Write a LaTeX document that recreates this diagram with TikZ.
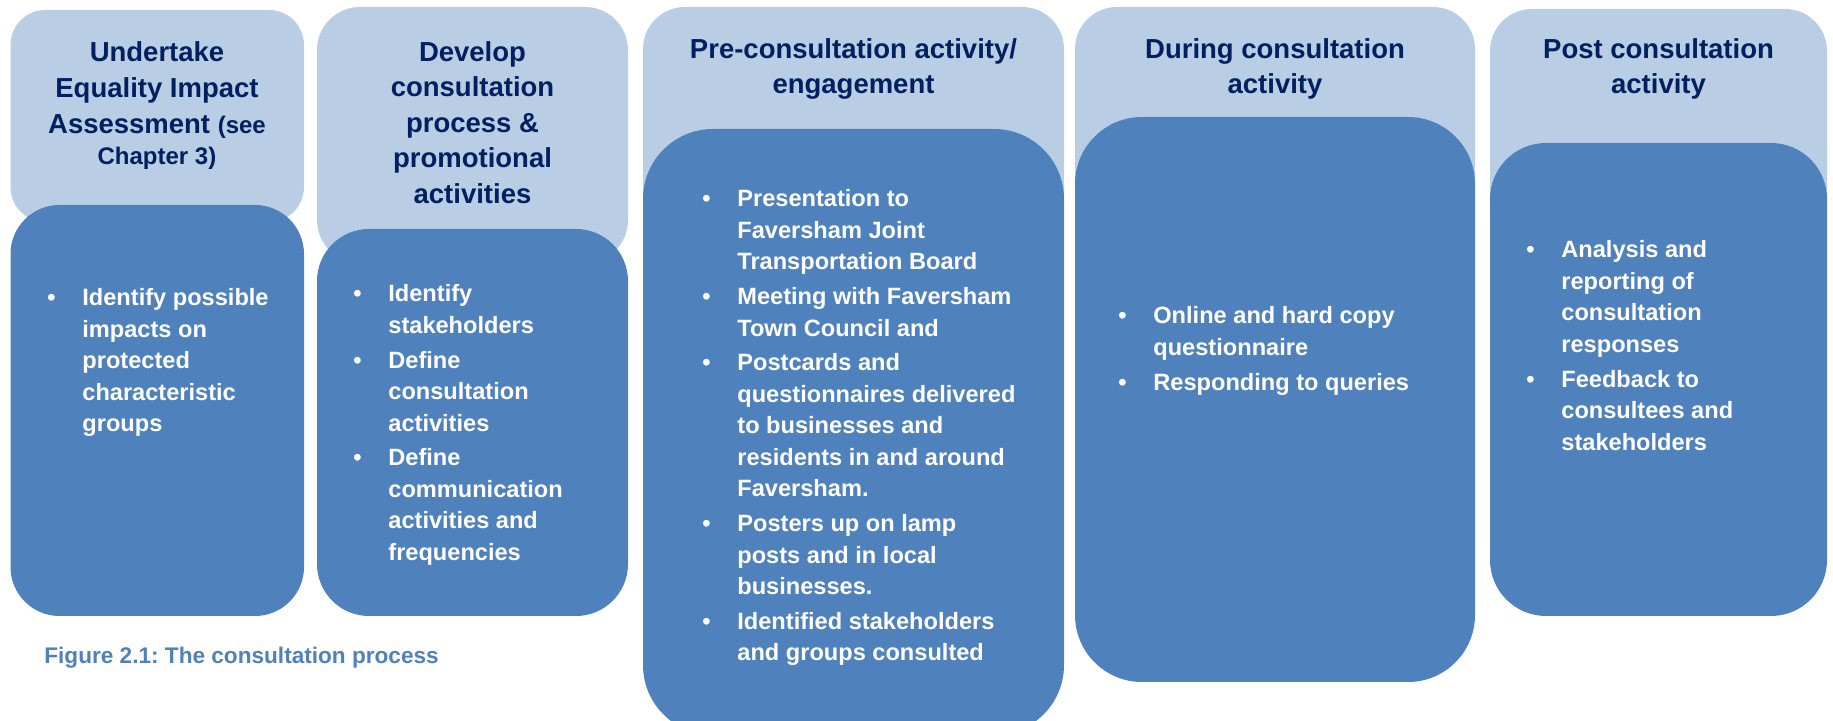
\documentclass[tikz,border=0pt]{standalone}
\usepackage{fontspec}
\setmainfont{Liberation Sans}
\frenchspacing
\definecolor{headfill}{RGB}{185,205,228}
\definecolor{bodyfill}{RGB}{79,129,189}
\definecolor{headtext}{RGB}{0,32,96}
% bullet list: bullet column, then the text lines
\newcommand{\blist}[1]{\begin{tabular}[t]{@{}p{17.5pt}@{}l@{}}#1\end{tabular}}
\newcommand{\nextb}{\\[1.6pt]}

\begin{document}
\begin{tikzpicture}[x=0.5pt,y=-0.5pt,
  headbox/.style={fill=headfill,rounded corners=#1},
  bodybox/.style={fill=bodyfill,rounded corners=#1},
  heading/.style={anchor=base,align=center,inner sep=0pt,text=headtext,
    font=\fontsize{13.75}{17.8}\selectfont\bfseries},
  bullets/.style={anchor=base west,inner sep=0pt,text=white,
    font=\fontsize{11.8}{15.75}\selectfont\bfseries}]

% Page of the reference, in pixels (y pointing down)
\useasboundingbox (0,0) rectangle (1833,721);
\clip (0,0) rectangle (1833,721);

% Light header boxes, drawn first since the body boxes overlap them
\path[headbox=17.5pt] (10.5,10) rectangle (304,222);
\path[headbox=21.5pt] (317,7)   rectangle (628,263);
\path[headbox=21pt]   (643,7)   rectangle (1064,240);
\path[headbox=21pt]   (1075,7)  rectangle (1475,230);
\path[headbox=21pt]   (1490,9)  rectangle (1827,240);

% Dark body boxes (the third one runs off the bottom of the page)
\path[bodybox=24.5pt] (10.5,205) rectangle (304,616);
\path[bodybox=26pt]   (317,229)  rectangle (628,616);
\path[bodybox=35pt]   (643,129)  rectangle (1064,735);
\path[bodybox=33.5pt] (1075,117) rectangle (1475,682);
\path[bodybox=28pt]   (1490,143) rectangle (1827,616);

% Headings (base anchor sits on the last line)
\node[heading,font=\fontsize{13.75}{18}\selectfont\bfseries] (eqia) at (157,164.5)
  {Undertake\\Equality Impact\\Assessment {\fontsize{12}{14}\selectfont(see}\\[-2.5pt]
   {\fontsize{12}{14}\selectfont Chapter 3)}};
\node[heading] (develop) at (472.5,203.5)
  {Develop\\consultation\\process \&\\promotional\\activities};
\node[heading] (pre)     at (853.5,94) {Pre-consultation activity/\\engagement};
\node[heading] (during)  at (1275,94)  {During consultation\\activity};
\node[heading] (post)    at (1658.5,94) {Post consultation\\activity};

% Bullet lists
\node[bullets] (impacts) at (47,306) {\blist{%
  \textbullet & Identify possible\\ & impacts on\\ & protected\\
              & characteristic\\ & groups}};
\node[bullets] (define) at (353,302) {\blist{%
  \textbullet & Identify\\ & stakeholders\nextb
  \textbullet & Define\\ & consultation\\ & activities\nextb
  \textbullet & Define\\ & communication\\ & activities and\\ & frequencies}};
\node[bullets] (engage) at (702,207) {\blist{%
  \textbullet & Presentation to\\ & Faversham Joint\\ & Transportation Board\nextb
  \textbullet & Meeting with Faversham\\ & Town Council and\nextb
  \textbullet & Postcards and\\ & questionnaires delivered\\ & to businesses and\\
              & residents in and around\\ & Faversham.\nextb
  \textbullet & Posters up on lamp\\ & posts and in local\\ & businesses.\nextb
  \textbullet & Identified stakeholders\\ & and groups consulted}};
\node[bullets] (online) at (1118,324) {\blist{%
  \textbullet & Online and hard copy\\ & questionnaire\nextb
  \textbullet & Responding to queries}};
\node[bullets] (analysis) at (1526,258) {\blist{%
  \textbullet & Analysis and\\ & reporting of\\ & consultation\\ & responses\nextb
  \textbullet & Feedback to\\ & consultees and\\ & stakeholders}};

% Caption
\node[anchor=base west,inner sep=0pt,text=bodyfill,
  font=\fontsize{11.3}{13}\selectfont\bfseries] (caption) at (44,663)
  {Figure 2.1: The consultation process};
\end{tikzpicture}
\end{document}
